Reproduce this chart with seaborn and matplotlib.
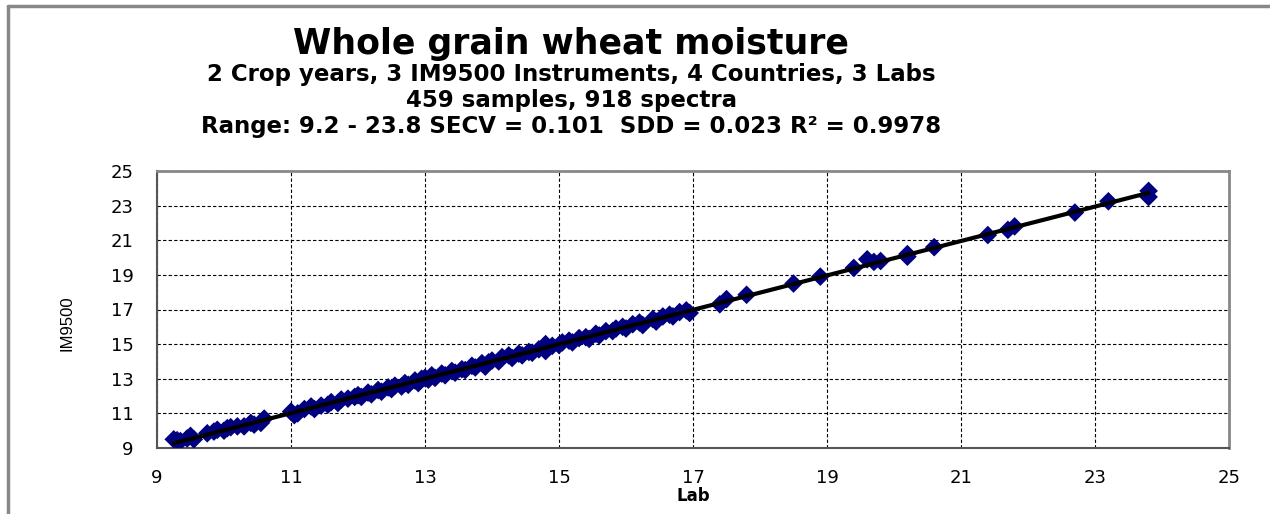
import matplotlib
matplotlib.use("Agg")
import matplotlib.pyplot as plt
import seaborn as sns
import pandas as pd
from matplotlib.lines import Line2D

# values (Lab reference vs IM9500 prediction)
lab = [9.25, 9.30, 9.35, 9.45, 9.50, 9.55, 9.75, 9.85, 9.90, 10.00,
       10.05, 10.10, 10.20, 10.30, 10.40, 10.45, 10.55, 10.60, 11.00, 11.05,
       11.10, 11.20, 11.30, 11.35, 11.45, 11.55, 11.60, 11.70, 11.75, 11.85,
       11.95, 12.00, 12.05, 12.15, 12.20, 12.30, 12.35, 12.45, 12.50, 12.55,
       12.65, 12.70, 12.75, 12.85, 12.90, 12.95, 13.00, 13.05, 13.10, 13.15,
       13.25, 13.30, 13.40, 13.45, 13.55, 13.60, 13.70, 13.75, 13.85, 13.90,
       13.95, 14.00, 14.10, 14.15, 14.25, 14.30, 14.40, 14.45, 14.55, 14.60,
       14.70, 14.80, 14.80, 14.90, 15.00, 15.05, 15.15, 15.20, 15.30, 15.40,
       15.45, 15.55, 15.60, 15.70, 15.80, 15.85, 15.95, 16.00, 16.10, 16.20,
       16.25, 16.40, 16.45, 16.55, 16.65, 16.70, 16.80, 16.90, 16.95, 17.40,
       17.50, 17.80, 18.50, 18.90, 19.40, 19.60, 19.70, 19.80, 20.20, 20.20,
       20.60, 21.40, 21.70, 21.80, 22.70, 23.20, 23.80, 23.80]
im9500 = [9.50, 9.45, 9.40, 9.55, 9.70, 9.50, 9.85, 9.95, 10.05, 10.00,
          10.15, 10.20, 10.25, 10.25, 10.45, 10.35, 10.45, 10.70, 11.10, 10.90,
          11.00, 11.25, 11.40, 11.25, 11.45, 11.50, 11.65, 11.60, 11.80, 11.85,
          11.95, 12.05, 11.95, 12.20, 12.10, 12.35, 12.25, 12.50, 12.40, 12.60,
          12.55, 12.75, 12.65, 12.90, 12.75, 13.00, 13.05, 12.95, 13.20, 13.05,
          13.30, 13.20, 13.45, 13.35, 13.55, 13.50, 13.75, 13.65, 13.90, 13.70,
          13.95, 14.05, 14.00, 14.25, 14.35, 14.20, 14.45, 14.35, 14.55, 14.50,
          14.70, 14.60, 15.00, 14.90, 14.95, 15.10, 15.20, 15.10, 15.35, 15.40,
          15.30, 15.60, 15.50, 15.75, 15.75, 15.90, 16.00, 15.90, 16.15, 16.25,
          16.10, 16.45, 16.30, 16.60, 16.70, 16.60, 16.85, 16.95, 16.80, 17.30,
          17.60, 17.85, 18.50, 18.90, 19.40, 19.90, 19.75, 19.80, 20.20, 20.05,
          20.60, 21.30, 21.60, 21.80, 22.60, 23.25, 23.85, 23.50]

ticks = [9, 11, 13, 15, 17, 19, 21, 23, 25]

title = "Whole grain wheat moisture"
subtitle = ["2 Crop years, 3 IM9500 Instruments, 4 Countries, 3 Labs",
            "459 samples, 918 spectra",
            "Range: 9.2 - 23.8 SECV = 0.101  SDD = 0.023 R² = 0.9978"]

df = pd.DataFrame({"Lab": lab, "IM9500": im9500})

sns.set_style("white")
plt.rcParams['font.family'] = ['Liberation Sans', 'DejaVu Sans']
plt.rcParams['text.color'] = 'black'
plt.rcParams['axes.labelcolor'] = 'black'
plt.rcParams['xtick.color'] = 'black'
plt.rcParams['ytick.color'] = 'black'

fig = plt.figure(figsize=(12.7, 5.14), dpi=100)
ax = fig.add_axes([157 / 1270, 1 - 448 / 514, (1229 - 157) / 1270, (448 - 171) / 514])

sns.regplot(data=df, x="Lab", y="IM9500", ci=None, ax=ax,
            marker="D",
            scatter_kws={"s": 90, "color": "#000080", "edgecolor": "none", "alpha": 1, "zorder": 3},
            line_kws={"color": "black", "lw": 3, "zorder": 4})

ax.set_xlim(9, 25)
ax.set_ylim(9, 25)
ax.set_xticks(ticks)
ax.set_yticks(ticks)
ax.grid(True, color="black", linestyle=(0, (3, 2)), linewidth=0.8)
ax.set_axisbelow(True)
ax.tick_params(axis="both", direction="out", length=6, width=1, color="#444444")
for lbl in ax.get_xticklabels() + ax.get_yticklabels():
    lbl.set_family("DejaVu Sans")
    lbl.set_fontsize(13)
ax.tick_params(axis="x", pad=9)
ax.tick_params(axis="y", pad=11)

for side in ["top", "right"]:
    ax.spines[side].set_color("#888888")
    ax.spines[side].set_linewidth(2)
for side in ["left", "bottom"]:
    ax.spines[side].set_color("#555555")
    ax.spines[side].set_linewidth(1.5)

ax.set_xlabel("Lab", fontsize=12, fontweight="bold", family="DejaVu Sans")
ax.set_ylabel("IM9500", fontsize=12)
ax.xaxis.set_label_coords(0.5, -0.14)
ax.yaxis.set_label_coords(-0.077, 0.451)

# chart area frame (left and top edge only)
fig.add_artist(Line2D([8 / 1270, 8 / 1270], [0, 1 - 6 / 514], color="#888888", lw=2.5))
fig.add_artist(Line2D([8 / 1270, 1], [1 - 6 / 514, 1 - 6 / 514], color="#888888", lw=2.5))

fig.text(571 / 1270, 1 - 44 / 514, title, ha="center", va="center",
         fontsize=25, fontweight="bold", family="DejaVu Sans")
for i, s in enumerate(subtitle):
    fig.text(571 / 1270, 1 - (75 + 25.5 * i) / 514, s, ha="center", va="center",
             fontsize=16.5, fontweight="bold", family="DejaVu Sans")

fig.savefig("out.png", dpi=100)
